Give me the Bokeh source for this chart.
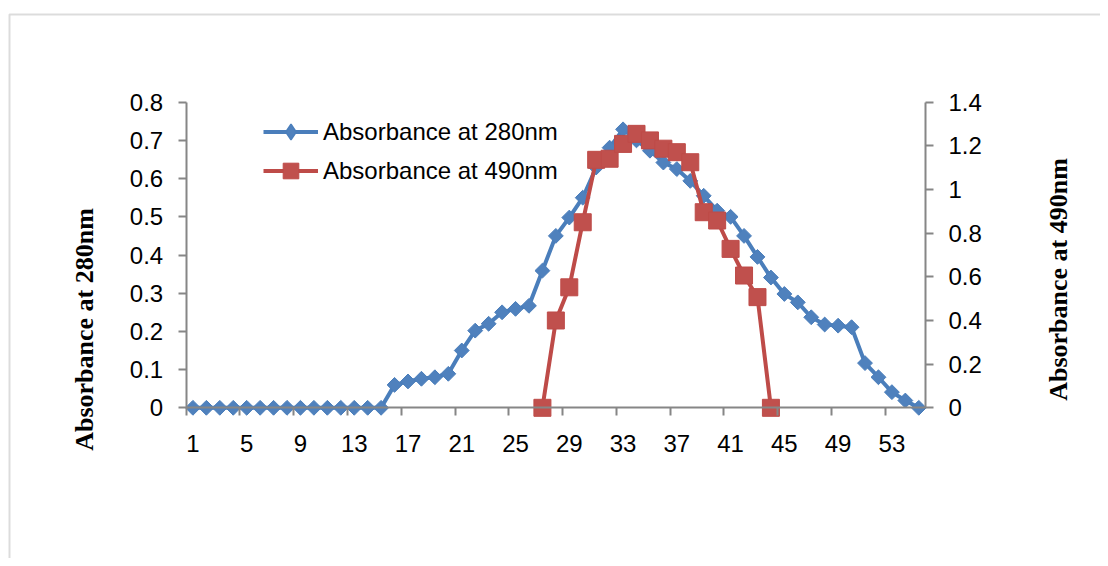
import math
from bokeh.plotting import figure
from bokeh.models import (Range1d, LinearAxis, FixedTicker, Label, Legend, LegendItem,
                          BoxAnnotation, CustomJSTickFormatter)
from bokeh.embed import file_html
from bokeh.resources import INLINE

# ---------------- data ----------------
fractions_280 = list(range(1, 56))
abs_280 = [0, 0, 0, 0, 0, 0, 0, 0, 0, 0, 0, 0, 0, 0, 0,
           0.06, 0.069, 0.076, 0.08, 0.089, 0.15, 0.202, 0.22, 0.25, 0.259,
           0.267, 0.359, 0.45, 0.498, 0.55, 0.629, 0.681, 0.729, 0.70, 0.673,
           0.642, 0.625, 0.594, 0.555, 0.516, 0.50, 0.45, 0.395, 0.341, 0.298,
           0.276, 0.237, 0.218, 0.215, 0.211, 0.117, 0.08, 0.041, 0.019, 0]

fractions_490 = list(range(27, 45))
abs_490 = [0, 0.40, 0.552, 0.85, 1.136, 1.141, 1.209, 1.255, 1.225, 1.187,
           1.171, 1.125, 0.896, 0.858, 0.728, 0.606, 0.507, 0]

x_tick_labels = ["1", "5", "9", "13", "17", "21", "25", "29", "33", "37", "41", "45", "49", "53"]
y_left_ticks = [0, 0.1, 0.2, 0.3, 0.4, 0.5, 0.6, 0.7, 0.8]
y_right_ticks = [0, 0.2, 0.4, 0.6, 0.8, 1.0, 1.2, 1.4]

series_names = ["Absorbance at 280nm", "Absorbance at 490nm"]
left_title = "Absorbance at 280nm"
right_title = "Absorbance at 490nm"

# ---------------- layout / styles ----------------
W, H = 1100, 558
BLUE = "#4A7EBB"
BLUE_FILL = "#4F81BD"
RED = "#BE4B48"
RED_FILL = "#C0504D"
AXIS = "#868686"
FONT = "Liberation Sans"
TICK_SIZE = "24px"

# pixel geometry of the plotting area inside the canvas
PX_LEFT, PX_RIGHT = 185.7, 925.0      # x = 0.5 and x = 55.5
PX_TOP, PX_BOTTOM = 101.7, 407.3      # y = max and y = 0
n_cat = 55
cat_w = (PX_RIGHT - PX_LEFT) / n_cat
x0 = 0.5 - PX_LEFT / cat_w
x1 = 0.5 + (W - PX_LEFT) / cat_w
kl = (PX_BOTTOM - PX_TOP) / 0.8
kr = (PX_BOTTOM - PX_TOP) / 1.4

p = figure(width=W, height=H,
           x_range=Range1d(x0, x1),
           y_range=Range1d(-(H - PX_BOTTOM) / kl, PX_BOTTOM / kl),
           output_backend="svg", toolbar_location=None,
           x_axis_location=None, y_axis_location=None,
           min_border=0, min_border_left=0, min_border_right=0,
           min_border_top=0, min_border_bottom=0)
p.extra_y_ranges = {"r": Range1d(-(H - PX_BOTTOM) / kr, PX_BOTTOM / kr)}
p.outline_line_color = None
p.grid.visible = False
p.background_fill_color = "white"
p.border_fill_color = "white"

fmt = CustomJSTickFormatter(code="return String(Number(tick.toFixed(2)));")

x_ticks = [int(s) for s in x_tick_labels]
x_minor = [t - 0.5 for t in x_ticks]
xaxis = LinearAxis(fixed_location=0, bounds=(0.5, 55.5),
                   ticker=FixedTicker(ticks=x_ticks, minor_ticks=x_minor))
xaxis.major_tick_line_color = None
xaxis.major_tick_out = 0
xaxis.major_tick_in = 0
xaxis.minor_tick_line_color = AXIS
xaxis.minor_tick_line_width = 2
xaxis.minor_tick_out = 8
xaxis.minor_tick_in = 0
xaxis.major_label_standoff = 19
p.add_layout(xaxis, "below")

yl = LinearAxis(fixed_location=0.5, bounds=(0, 0.8),
                ticker=FixedTicker(ticks=y_left_ticks, minor_ticks=[]), formatter=fmt)
yl.major_tick_out = 8
yl.major_tick_in = 0
yl.major_label_standoff = 15
p.add_layout(yl, "left")

yr = LinearAxis(y_range_name="r", fixed_location=55.5, bounds=(0, 1.4),
                ticker=FixedTicker(ticks=y_right_ticks, minor_ticks=[]), formatter=fmt)
yr.major_tick_out = 8
yr.major_tick_in = 0
yr.major_label_standoff = 15
p.add_layout(yr, "right")

for ax in (xaxis, yl, yr):
    ax.axis_line_color = AXIS
    ax.axis_line_width = 2
    ax.major_tick_line_width = 2
    if ax is not xaxis:
        ax.major_tick_line_color = AXIS
        ax.minor_tick_line_color = None
    ax.major_label_text_font = FONT
    ax.major_label_text_font_size = TICK_SIZE
    ax.major_label_text_color = "black"

# ---------------- glyphs ----------------
l280 = p.line(fractions_280, abs_280, line_color=BLUE, line_width=4)
s280 = p.scatter(fractions_280, abs_280, marker="square", angle=math.pi / 4, size=10.5,
                 fill_color=BLUE_FILL, line_color=BLUE)
l490 = p.line(fractions_490, abs_490, y_range_name="r", line_color=RED, line_width=4)
s490 = p.scatter(fractions_490, abs_490, y_range_name="r", marker="square", size=17,
                 fill_color=RED_FILL, line_color=RED)

# legend-only proxy (legend markers are drawn unrotated), no visible data point
leg_d = p.scatter([float("nan")], [float("nan")], marker="diamond",
                  fill_color=BLUE_FILL, line_color=BLUE, line_width=1.5)

legend = Legend(items=[LegendItem(label=series_names[0], renderers=[l280, leg_d]),
                       LegendItem(label=series_names[1], renderers=[l490, s490])],
                location=(263, 368), border_line_color=None, background_fill_alpha=0,
                padding=0, margin=0, spacing=0, glyph_width=55, glyph_height=39,
                label_height=39, label_standoff=5,
                label_text_font=FONT, label_text_font_size=TICK_SIZE,
                label_text_color="black")
p.add_layout(legend, "center")

# ---------------- titles ----------------
p.add_layout(Label(x=84, y=H - 329, x_units="screen", y_units="screen", text=left_title,
                   angle=math.pi / 2, text_align="center", text_baseline="middle",
                   text_font="Liberation Serif", text_font_style="bold",
                   text_font_size="26px", text_color="black"))
p.add_layout(Label(x=1058, y=H - 279, x_units="screen", y_units="screen", text=right_title,
                   angle=math.pi / 2, text_align="center", text_baseline="middle",
                   text_font="Liberation Serif", text_font_style="bold",
                   text_font_size="26px", text_color="black"))

# outer chart border (left and top edges)
p.add_layout(BoxAnnotation(left=9, right=W + 50, top=H - 14, bottom=-50,
                           left_units="screen", right_units="screen",
                           top_units="screen", bottom_units="screen",
                           fill_alpha=0, line_color="#8C8C8C", line_width=2))

open("out.html", "w").write(file_html(p, INLINE))
